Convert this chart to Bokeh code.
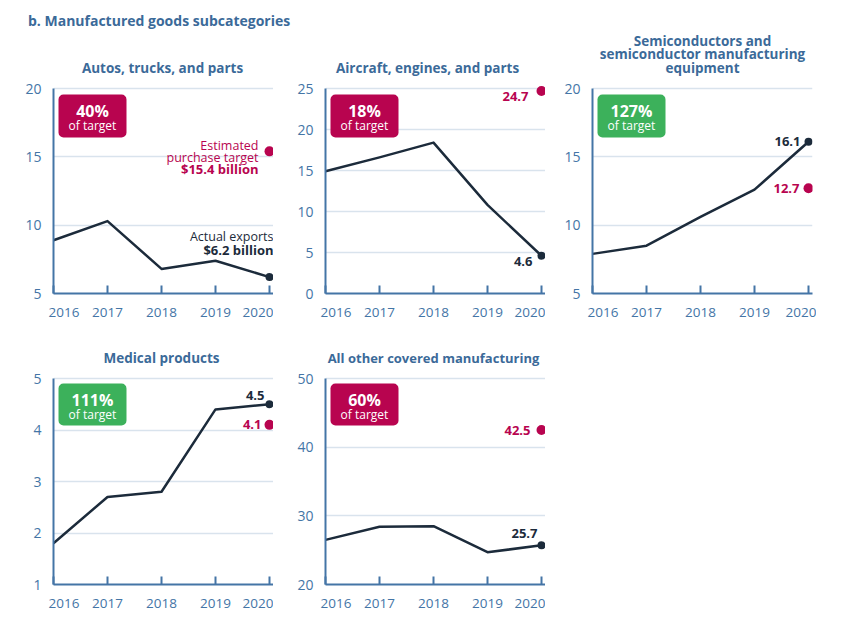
from bokeh.plotting import figure
from bokeh.models import Range1d, FixedTicker, BoxAnnotation, Label, Div
from bokeh.layouts import column, row
from bokeh.embed import file_html
from bokeh.resources import INLINE
from bokeh.core.properties import value

# ---------------- data ----------------
years = [2016, 2017, 2018, 2019, 2020]
year_labels = ["2016", "2017", "2018", "2019", "2020"]

autos = [8.9, 10.3, 6.8, 7.4, 6.2]
aircraft = [14.9, 16.6, 18.4, 10.8, 4.6]
semis = [7.9, 8.5, 10.6, 12.6, 16.1]
medical = [1.8, 2.7, 2.8, 4.4, 4.5]
other = [26.5, 28.4, 28.5, 24.7, 25.7]

targets = [15.4, 24.7, 12.7, 4.1, 42.5]
pct_of_target = ["40%", "18%", "127%", "111%", "60%"]
badge_good = [False, False, True, True, False]

main_title = "b. Manufactured goods subcategories"
panel_titles = [
    ["Autos, trucks, and parts"],
    ["Aircraft, engines, and parts"],
    ["Semiconductors and", "semiconductor manufacturing", "equipment"],
    ["Medical products"],
    ["All other covered manufacturing"],
]
y_ticks = [
    [5, 10, 15, 20],
    [0, 5, 10, 15, 20, 25],
    [5, 10, 15, 20],
    [1, 2, 3, 4, 5],
    [20, 30, 40, 50],
]
series = [autos, aircraft, semis, medical, other]

# ---------------- style ----------------
FONT = "Open Sans"
TITLE_BLUE = "#3b6a99"
AXIS_BLUE = "#4475a6"
NAVY = "#1c2b3b"
MAGENTA = "#b8044f"
GREEN = "#3cb15b"
GRID = "#d9e3ed"

YEAR_PX = 54.0
FRAME_W = 220
X_START = 2016
X_END = 2016 + FRAME_W / YEAR_PX

# head = space above the top gridline (holds the panel title, inside the frame)
layout_cfg = [
    dict(left=53, head=58, fh=205, bottom=37, right=0, tdx=-1, tfs="13.5px"),
    dict(left=52, head=58, fh=205, bottom=37, right=0, tdx=-8, tfs="13.5px"),
    dict(left=47, head=58, fh=205, bottom=37, right=4, tdx=0, tfs="13.5px"),
    dict(left=53, head=48, fh=206, bottom=36, right=0, tdx=-2, tfs="13.5px"),
    dict(left=52, head=48, fh=206, bottom=36, right=0, tdx=-2, tfs="13px"),
]
TITLE_GAP = 21      # px from top gridline to centre of the lowest title line
TITLE_LINE = 13.5   # px between title lines


def ann_specs(i):
    a = series[i][-1]
    t = targets[i]
    if i == 0:
        return [
            ("Estimated", "t", -11, -6, False),
            ("purchase target", "t", -11, 6, False),
            (f"${t} billion", "t", -11, 18, True),
            ("Actual exports", "a", 4, -41, False),
            (f"${a} billion", "a", 4, -27, True),
        ]
    if i == 1:
        return [(f"{t}", "t", -13, 6, True), (f"{a}", "a", -9, 6, True)]
    if i == 2:
        return [(f"{a}", "a", -8, 0, True), (f"{t}", "t", -9, 0, True)]
    if i == 3:
        return [(f"{a}", "a", -5, -9, True), (f"{t}", "t", -8, 0, True)]
    return [(f"{t}", "t", -11, 0, True), (f"{a}", "a", -4, -12, True)]


def make_panel(i):
    cfg = layout_cfg[i]
    ticks = y_ticks[i]
    y0, y1 = ticks[0], ticks[-1]
    unit = (y1 - y0) / cfg["fh"]
    y_end = y1 + cfg["head"] * unit
    width = cfg["left"] + FRAME_W + cfg["right"]
    height = cfg["head"] + cfg["fh"] + cfg["bottom"]

    p = figure(
        width=width, height=height, title=None,
        x_range=Range1d(X_START, X_END), y_range=Range1d(y0, y_end),
        output_backend="svg", toolbar_location=None,
        min_border_left=cfg["left"], min_border_right=cfg["right"],
        min_border_top=0, min_border_bottom=cfg["bottom"],
    )
    p.outline_line_color = None
    p.background_fill_color = "white"
    p.border_fill_color = "white"

    def xat(px):
        return X_START + px / YEAR_PX

    def yat(px_below_top_grid):
        return y1 - px_below_top_grid * unit

    # panel title lines
    lines = panel_titles[i]
    tx = xat(FRAME_W / 2 + cfg["tdx"])
    for k, txt in enumerate(reversed(lines)):
        p.add_layout(Label(x=tx, y=yat(-(TITLE_GAP + k * TITLE_LINE)), text=txt,
                           text_align="center", text_baseline="middle",
                           text_font=FONT, text_font_size=cfg["tfs"],
                           text_font_style="bold", text_color=TITLE_BLUE))

    xa = p.xaxis[0]
    xa.ticker = FixedTicker(ticks=years)
    xa.major_label_overrides = {years[0]: "\u00a0" * 6 + year_labels[0],
                                **{y: l for y, l in zip(years[1:], year_labels[1:])}}
    xa.axis_line_color = AXIS_BLUE
    xa.axis_line_width = 2
    xa.major_tick_line_color = AXIS_BLUE
    xa.major_tick_line_width = 2
    xa.major_tick_in = 8
    xa.major_tick_out = 0
    xa.minor_tick_line_color = None
    xa.major_label_text_font = FONT
    xa.major_label_text_font_size = "13.5px"
    xa.major_label_text_color = AXIS_BLUE
    xa.major_label_standoff = 9

    ya = p.yaxis[0]
    ya.ticker = FixedTicker(ticks=ticks)
    ya.bounds = (y0, y1)
    ya.axis_line_color = AXIS_BLUE
    ya.axis_line_width = 2
    ya.major_tick_line_color = None
    ya.minor_tick_line_color = None
    ya.major_label_text_font = FONT
    ya.major_label_text_font_size = "14px"
    ya.major_label_text_color = AXIS_BLUE
    ya.major_label_standoff = 6

    p.xgrid.visible = False
    p.ygrid.ticker = FixedTicker(ticks=ticks[1:])
    p.ygrid.grid_line_color = GRID
    p.ygrid.grid_line_width = 1.5

    row1 = i < 3
    b_top, b_h = (6, 43) if row1 else (5, 42)
    b_left, b_w = 5, 68
    color = GREEN if badge_good[i] else MAGENTA
    p.add_layout(BoxAnnotation(left=xat(b_left), right=xat(b_left + b_w),
                               top=yat(b_top), bottom=yat(b_top + b_h),
                               fill_color=color, fill_alpha=1.0,
                               line_color=None, border_radius=5))
    cx = xat(b_left + b_w / 2)
    p.add_layout(Label(x=cx, y=yat(b_top + 16), text=pct_of_target[i],
                       text_align="center", text_baseline="middle",
                       text_font=FONT, text_font_size="16px",
                       text_font_style="bold", text_color="white"))
    p.add_layout(Label(x=cx, y=yat(b_top + 31), text="of target",
                       text_align="center", text_baseline="middle",
                       text_font=FONT, text_font_size="12px",
                       text_color="white"))

    vals = series[i]
    p.line(years, vals, line_color=NAVY, line_width=2.5, line_join="round")
    p.scatter([years[-1]], [vals[-1]], size=8, fill_color=NAVY, line_color=None)
    p.scatter([years[-1]], [targets[i]], size=10, fill_color=MAGENTA, line_color=None)

    for txt, which, dx, dy, bold in ann_specs(i):
        yv = targets[i] if which == "t" else vals[-1]
        col = MAGENTA if which == "t" else NAVY
        p.text([years[-1]], [yv], text=[txt], x_offset=dx, y_offset=dy,
               text_align="right", text_baseline="middle",
               text_font=value(FONT), text_font_size="13px" if bold else "12.5px",
               text_font_style="bold" if bold else "normal", text_color=col)
    return p


panels = [make_panel(i) for i in range(5)]

title_div = Div(
    text=(f'<div style="position:relative; top:13px; left:28px; white-space:nowrap; '
          f'font-family:\'{FONT}\'; font-weight:bold; font-size:14px; '
          f'line-height:16px; color:{TITLE_BLUE};">{main_title}</div>'),
    width=846, height=30,
    styles={"overflow": "visible", "margin": "0", "padding": "0"},
)

layout = column(title_div, row(panels[0], panels[1], panels[2]),
                row(panels[3], panels[4]))

open("out.html", "w").write(file_html(layout, INLINE))
